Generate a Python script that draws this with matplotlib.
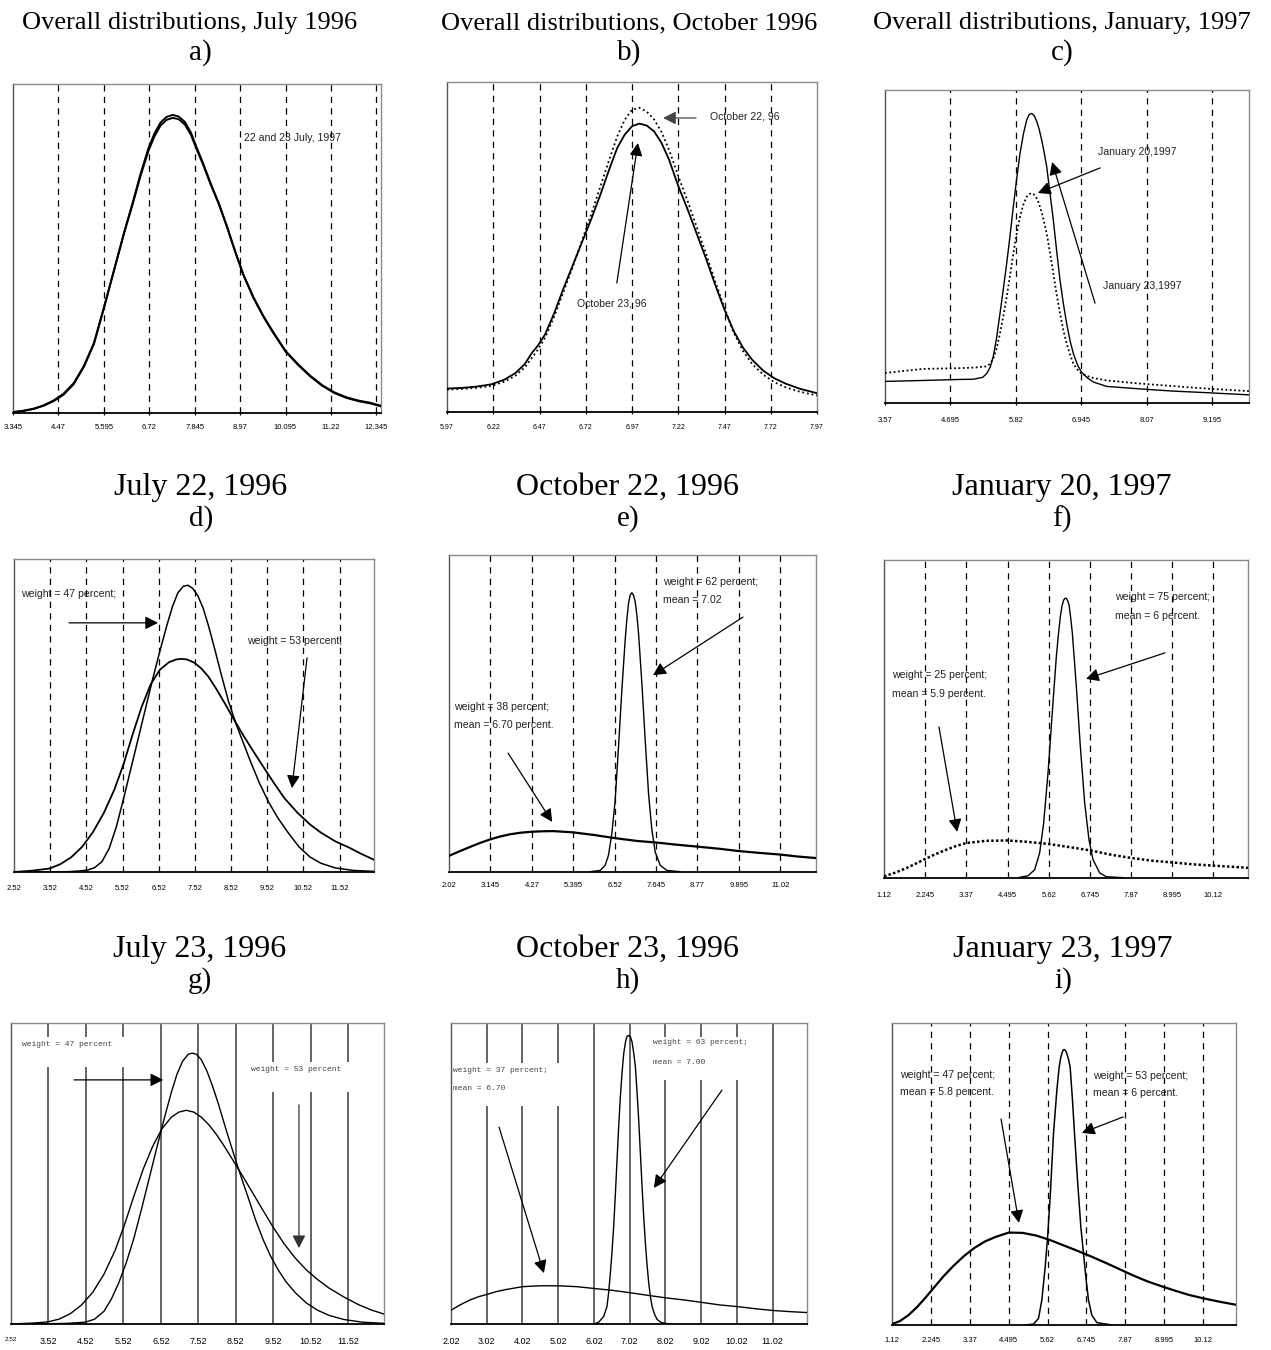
import matplotlib
matplotlib.use('Agg')
import matplotlib.pyplot as plt
from matplotlib.patches import Rectangle

# ---------------- data (y = percent of panel height) ----------------
a_ticks = [3.345, 4.47, 5.595, 6.72, 7.845, 8.97, 10.095, 11.22, 12.345]
a_labels = ['3.345', '4.47', '5.595', '6.72', '7.845', '8.97', '10.095', '11.22', '12.345']
a_x = [3.345, 3.6, 3.85, 4.1, 4.35, 4.6, 4.85, 5.1, 5.35, 5.6, 5.85, 6.1, 6.3, 6.5, 6.7, 6.85, 7.0,
       7.15, 7.3, 7.45, 7.6, 7.75, 7.9, 8.05, 8.25, 8.45, 8.65, 8.85, 9.05, 9.3, 9.55, 9.8, 10.1,
       10.4, 10.7, 11.0, 11.3, 11.6, 11.9, 12.2, 12.46]
a_jul22 = [0.2, 0.6, 1.2, 2.2, 3.6, 5.6, 8.8, 14.0, 21.0, 32.0, 43.5, 55.0, 63.5, 72.5, 80.5, 85.0, 88.3,
           90.0, 90.6, 90.1, 88.5, 85.3, 80.5, 76.0, 69.5, 63.5, 56.5, 49.0, 42.0, 35.0, 29.2, 24.2, 18.6,
           14.7, 11.2, 8.3, 6.1, 4.6, 3.6, 2.9, 2.0]
a_jul23 = [0.3, 0.7, 1.3, 2.3, 3.8, 5.9, 9.1, 14.3, 21.3, 32.2, 43.5, 54.8, 63.1, 71.9, 79.7, 84.1, 87.4,
           89.1, 89.7, 89.3, 87.7, 84.6, 80.0, 75.6, 69.2, 63.3, 56.4, 49.0, 42.1, 35.2, 29.4, 24.4, 18.8,
           14.9, 11.4, 8.5, 6.3, 4.8, 3.8, 3.1, 2.2]

b_ticks = [5.97, 6.22, 6.47, 6.72, 6.97, 7.22, 7.47, 7.72, 7.97]
b_labels = ['5.97', '6.22', '6.47', '6.72', '6.97', '7.22', '7.47', '7.72', '7.97']
b_x = [5.97, 6.05, 6.13, 6.21, 6.28, 6.34, 6.39, 6.43, 6.46, 6.50, 6.55, 6.60, 6.65, 6.70, 6.75,
       6.80, 6.85, 6.89, 6.93, 6.97, 7.01, 7.05, 7.09, 7.13, 7.17, 7.22, 7.27, 7.32, 7.37, 7.42,
       7.47, 7.52, 7.57, 7.62, 7.68, 7.74, 7.80, 7.88, 7.97]
b_oct23 = [7.1, 7.3, 7.7, 8.4, 9.8, 11.8, 14.5, 18.0, 20.0, 23.5, 30.0, 37.5, 44.5, 51.5, 58.5,
           66.0, 74.0, 80.0, 84.0, 86.6, 87.4, 86.8, 85.0, 81.5, 76.5, 68.5, 61.5, 54.0, 46.5, 38.5,
           31.0, 24.5, 19.5, 15.8, 12.5, 10.2, 8.6, 7.0, 5.7]
b_oct22 = [6.8, 7.0, 7.3, 7.9, 9.2, 11.0, 13.5, 16.5, 18.8, 22.5, 29.0, 36.5, 44.0, 52.0, 60.0,
           68.5, 77.0, 83.5, 88.5, 91.6, 92.2, 91.0, 88.6, 84.8, 79.5, 71.5, 64.0, 56.0, 48.0, 39.5,
           31.5, 24.0, 18.5, 14.5, 11.3, 9.0, 7.5, 6.1, 5.0]

c_ticks = [3.57, 4.695, 5.82, 6.945, 8.07, 9.195]
c_labels = ['3.57', '4.695', '5.82', '6.945', '8.07', '9.195']
c_x20 = [3.57, 4.229, 4.8, 5.089, 5.25, 5.318, 5.38, 5.433, 5.49, 5.547, 5.605, 5.662, 5.72, 5.776,
         5.833, 5.891, 5.95, 6.006, 6.05, 6.092, 6.135, 6.178, 6.22, 6.264, 6.307, 6.35, 6.407,
         6.464, 6.52, 6.579, 6.636, 6.693, 6.75, 6.808, 6.877, 6.946, 7.05, 7.152, 7.381, 7.954,
         8.527, 9.1, 9.828]
c_jan20 = [6.9, 7.2, 7.5, 7.6, 8.2, 9.4, 11.5, 15.0, 21.0, 28.6, 36.5, 44.6, 53.5, 62.7,
           71.5, 79.7, 86.0, 90.4, 92.2, 92.5, 91.8, 90.0, 87.5, 84.0, 80.0, 75.5, 67.0,
           58.4, 48.8, 39.2, 31.8, 25.4, 20.0, 15.8, 12.3, 9.9, 8.0, 6.7, 5.3, 4.5,
           3.8, 3.3, 2.6]
c_x23 = [3.57, 4.229, 4.8, 5.089, 5.318, 5.38, 5.433, 5.49, 5.547, 5.605, 5.662, 5.72, 5.776, 5.833,
         5.891, 5.95, 6.006, 6.055, 6.103, 6.155, 6.206, 6.28, 6.35, 6.407, 6.464, 6.52, 6.579,
         6.636, 6.693, 6.75, 6.808, 6.877, 6.946, 7.05, 7.152, 7.381, 7.954, 8.527, 9.1, 9.828]
c_jan23 = [9.6, 10.9, 11.1, 11.3, 11.7, 12.6, 14.2, 17.5, 22.2, 27.8, 33.9, 40.8, 47.8, 54.0,
           59.5, 63.5, 65.9, 66.8, 67.0, 66.2, 64.3, 59.8, 54.2, 48.0, 41.4, 34.8, 28.6,
           23.3, 19.0, 15.5, 12.6, 10.7, 9.4, 8.6, 8.0, 7.2, 6.2, 5.4, 4.6, 3.8]

d_ticks = [2.52, 3.52, 4.52, 5.52, 6.52, 7.52, 8.52, 9.52, 10.52, 11.52]
d_labels = ['2.52', '3.52', '4.52', '5.52', '6.52', '7.52', '8.52', '9.52', '10.52', '11.52']
d_x_tall = [2.52, 3.5, 4.0, 4.3, 4.55, 4.75, 4.95, 5.15, 5.35, 5.55, 5.75, 5.95, 6.15, 6.35, 6.55,
            6.75, 6.9, 7.05, 7.2, 7.33, 7.46, 7.6, 7.75, 7.9, 8.05, 8.25, 8.45, 8.65, 8.85, 9.05,
            9.3, 9.55, 9.8, 10.1, 10.4, 10.7, 11.0, 11.4, 11.9, 12.47]
d_tall = [0.0, 0.0, 0.1, 0.3, 0.6, 1.4, 3.3, 7.5, 14.5, 23.5, 33.0, 42.5, 52.0, 61.5, 70.5,
          79.0, 84.8, 89.2, 91.3, 91.6, 90.6, 88.3, 84.2, 78.5, 72.0, 63.0, 54.5, 47.5, 41.5, 35.5,
          28.5, 22.5, 17.5, 12.5, 8.0, 4.8, 2.8, 1.3, 0.5, 0.2]
d_x_wide = [2.52, 3.0, 3.5, 3.8, 4.1, 4.4, 4.7, 5.0, 5.3, 5.55, 5.8, 6.05, 6.3, 6.55, 6.8, 7.0,
            7.15, 7.3, 7.5, 7.7, 7.9, 8.1, 8.35, 8.6, 8.85, 9.1, 9.4, 9.7, 10.0, 10.35, 10.7,
            11.0, 11.4, 11.8, 12.1, 12.47]
d_wide = [0.0, 0.4, 1.1, 2.5, 4.7, 8.0, 12.7, 18.8, 26.5, 34.5, 44.0, 52.8, 60.0, 64.6, 67.0, 67.9,
          68.1, 67.9, 66.9, 65.0, 62.3, 58.7, 53.8, 48.7, 43.8, 39.2, 33.8, 28.5, 23.5, 19.0, 15.2,
          12.6, 9.8, 7.7, 5.9, 3.9]

e_ticks = [2.02, 3.145, 4.27, 5.395, 6.52, 7.645, 8.77, 9.895, 11.02]
e_labels = ['2.02', '3.145', '4.27', '5.395', '6.52', '7.645', '8.77', '9.895', '11.02']
e_x_narrow = [5.855, 6.126, 6.262, 6.353, 6.444, 6.534, 6.625, 6.716, 6.806, 6.85, 6.897, 6.943,
              6.988, 7.033, 7.078, 7.124, 7.169, 7.26, 7.35, 7.441, 7.532, 7.622, 7.758, 7.939, 8.302]
e_narrow = [0.1, 0.5, 2.1, 5.3, 12.1, 22.6, 39.5, 57.4, 73.2, 79.5, 84.7, 87.4,
            88.1, 87.3, 85.3, 81.0, 75.3, 59.5, 41.6, 24.7, 13.2, 6.3, 2.1, 0.5, 0.1]
e_x_wide = [2.02, 2.3, 2.591, 2.87, 3.144, 3.41, 3.679, 3.97, 4.268, 4.56, 4.857, 5.392, 5.945,
            6.516, 7.123, 7.649, 8.211, 8.773, 9.389, 9.897, 10.478, 11.021, 11.475, 11.992]
e_wide = [5.1, 6.5, 7.9, 9.2, 10.3, 11.2, 11.9, 12.4, 12.7, 12.85, 12.9, 12.5, 11.7,
          10.7, 9.8, 9.3, 8.6, 8.0, 7.3, 6.6, 6.0, 5.5, 4.9, 4.4]

f_ticks = [1.12, 2.245, 3.37, 4.495, 5.62, 6.745, 7.87, 8.995, 10.12]
f_labels = ['1.12', '2.245', '3.37', '4.495', '5.62', '6.745', '7.87', '8.995', '10.12']
f_x_narrow = [4.827, 5.055, 5.237, 5.374, 5.483, 5.602, 5.711, 5.829, 5.885, 5.939, 5.985, 6.03,
              6.062, 6.094, 6.135, 6.176, 6.22, 6.267, 6.376, 6.485, 6.604, 6.722, 6.831, 7.014,
              7.196, 7.651]
f_narrow = [0.2, 0.7, 2.6, 7.9, 17.3, 33.0, 50.8, 69.6, 76.5, 82.2, 85.6, 87.4,
            87.9, 88.0, 87.3, 85.9, 82.0, 77.0, 60.2, 41.4, 23.6, 12.0, 5.8, 1.6,
            0.4, 0.1]
f_x_wide = [1.12, 1.43, 1.73, 2.0, 2.245, 2.53, 2.823, 3.1, 3.37, 3.917, 4.49, 5.009, 5.62, 6.194,
            6.749, 7.332, 7.879, 8.471, 8.999, 9.564, 10.12, 11.067]
f_wide = [0.5, 1.7, 3.1, 4.6, 6.0, 7.5, 8.9, 10.1, 11.0, 11.7, 11.8, 11.4, 10.7, 9.7,
          8.7, 7.3, 6.3, 5.4, 4.9, 4.3, 3.9, 3.2]

g_ticks = [2.52, 3.52, 4.52, 5.52, 6.52, 7.52, 8.52, 9.52, 10.52, 11.52]
g_labels = ['2.52', '3.52', '4.52', '5.52', '6.52', '7.52', '8.52', '9.52', '10.52', '11.52']
g_x_tall = [2.52, 3.5, 4.0, 4.5, 4.75, 5.0, 5.2, 5.4, 5.6, 5.8, 6.0, 6.2, 6.4, 6.6, 6.8, 6.95,
            7.1, 7.25, 7.355, 7.47, 7.6, 7.75, 7.9, 8.05, 8.25, 8.45, 8.65, 8.85, 9.05, 9.25, 9.45,
            9.65, 9.85, 10.1, 10.4, 10.7, 11.0, 11.4, 11.9, 12.5]
g_tall = [0.0, 0.1, 0.2, 0.6, 1.6, 4.2, 8.3, 13.8, 20.5, 28.5, 38.0, 48.0, 58.0, 67.8, 77.0, 83.0,
          87.3, 89.6, 90.0, 89.6, 87.8, 84.0, 79.0, 73.3, 65.0, 57.0, 49.3, 42.0, 34.5, 28.0, 22.5,
          18.0, 14.2, 10.5, 7.0, 4.6, 2.9, 1.5, 0.6, 0.2]
g_x_wide = [2.52, 3.1, 3.5, 3.8, 4.1, 4.4, 4.7, 5.0, 5.3, 5.55, 5.8, 6.05, 6.3, 6.55, 6.8, 7.0,
            7.194, 7.4, 7.6, 7.8, 8.0, 8.2, 8.45, 8.7, 8.95, 9.2, 9.5, 9.8, 10.1, 10.4, 10.7, 11.0,
            11.4, 11.8, 12.15, 12.5]
g_wide = [0.0, 0.3, 0.7, 1.6, 3.4, 6.3, 10.5, 16.5, 24.5, 33.0, 42.5, 51.5, 59.0, 64.9, 68.7, 70.4,
          71.0, 70.4, 68.7, 66.2, 63.0, 59.3, 54.3, 49.2, 44.0, 38.7, 32.5, 26.8, 22.0, 18.0, 14.8,
          12.0, 9.0, 6.4, 4.6, 3.2]

h_ticks = [2.02, 3.02, 4.02, 5.02, 6.02, 7.02, 8.02, 9.02, 10.02, 11.02]
h_labels = ['2.02', '3.02', '4.02', '5.02', '6.02', '7.02', '8.02', '9.02', '10.02', '11.02']
h_x_narrow = [6.02, 6.151, 6.291, 6.384, 6.431, 6.478, 6.525, 6.571, 6.618, 6.665, 6.711, 6.758,
              6.805, 6.852, 6.9, 6.945, 7.001, 7.043, 7.085, 7.132, 7.179, 7.225, 7.272, 7.319,
              7.366, 7.412, 7.459, 7.506, 7.553, 7.6, 7.646, 7.717, 7.787, 7.9, 8.02, 8.16]
h_narrow = [0.0, 0.6, 2.5, 5.8, 10.5, 16.8, 24.0, 32.3, 43.0, 54.4, 65.5, 75.4,
            83.5, 89.8, 93.6, 95.6, 95.9, 95.3, 93.7, 90.0, 85.4, 77.0, 67.7, 56.5,
            45.6, 35.5, 26.8, 19.5, 13.5, 9.0, 5.8, 3.2, 1.5, 0.5, 0.2, 0.0]
h_x_wide = [2.02, 2.3, 2.553, 2.8, 3.02, 3.3, 3.581, 4.02, 4.515, 5.02, 5.543, 6.02, 6.525, 7.02,
            7.6, 8.02, 8.534, 9.02, 9.562, 10.02, 10.59, 11.02, 11.515, 11.982]
h_wide = [4.6, 6.5, 8.0, 9.1, 9.8, 10.8, 11.5, 12.4, 12.7, 12.7, 12.4, 11.8, 11.2, 10.4,
          9.4, 8.7, 8.0, 7.2, 6.3, 5.8, 5.0, 4.5, 4.1, 3.8]

i_ticks = [1.12, 2.245, 3.37, 4.495, 5.62, 6.745, 7.87, 8.995, 10.12]
i_labels = ['1.12', '2.245', '3.37', '4.495', '5.62', '6.745', '7.87', '8.995', '10.12']
i_x_narrow = [4.974, 5.215, 5.36, 5.456, 5.553, 5.62, 5.697, 5.793, 5.89, 5.957, 6.0, 6.034, 6.07,
              6.102, 6.14, 6.179, 6.227, 6.275, 6.343, 6.401, 6.488, 6.584, 6.661, 6.738, 6.805,
              6.901, 7.046, 7.48]
i_narrow = [0.0, 0.3, 2.2, 8.3, 19.3, 28.7, 42.4, 63.4, 77.7, 85.4, 88.4, 89.9, 91.0,
            91.2, 90.9, 89.9, 88.0, 85.4, 74.4, 63.4, 48.0, 32.5, 23.7, 14.9, 8.3,
            3.3, 0.8, 0.0]
i_x_wide = [1.12, 1.35, 1.6, 1.85, 2.1, 2.35, 2.6, 2.9, 3.2, 3.5, 3.8, 4.1, 4.5, 4.9, 5.3, 5.7,
            6.1, 6.5, 6.9, 7.3, 7.7, 8.1, 8.5, 8.9, 9.3, 9.7, 10.1, 10.6, 11.074]
i_wide = [0.3, 1.3, 3.3, 6.0, 9.2, 12.6, 16.0, 19.6, 22.8, 25.5, 27.6, 29.1, 30.6, 30.5, 29.6, 28.1,
          26.3, 24.5, 22.6, 20.6, 18.5, 16.4, 14.5, 12.9, 11.4, 10.0, 8.9, 7.7, 6.7]

# ---------------- figure ----------------
W, H = 1271, 1350
fig = plt.figure(figsize=(W / 100, H / 100), dpi=100)
fig.patch.set_facecolor('white')

SERIF = ['Liberation Serif', 'DejaVu Serif']
SANS = ['Liberation Sans', 'DejaVu Sans']
MONO = ['Liberation Mono', 'DejaVu Sans Mono']
ANN = 7.6
DASH = (0, (5, 4.2))


def px_axes(l, r, t, b):
    return fig.add_axes([l / W, 1 - b / H, (r - l) / W, (b - t) / H])


def setup(ax, xmin, xmax, ticks, labels, lines, ls, lsize, pad, tlen=3.5, lcolor='black', llw=0.9):
    ax.set_xlim(xmin, xmax)
    ax.set_ylim(0, 100)
    ax.set_yticks([])
    ax.set_xticks(ticks)
    ax.set_xticklabels(labels, fontfamily=SANS, fontsize=lsize)
    for s in ['left', 'top', 'right']:
        ax.spines[s].set_color('#8a8a8a')
        ax.spines[s].set_linewidth(1.0)
    ax.spines['left'].set_color('#555555')
    ax.spines['bottom'].set_color('black')
    ax.spines['bottom'].set_linewidth(1.3)
    ax.tick_params(axis='x', direction='inout', length=tlen, width=0.9, pad=pad, colors='black')
    for v in lines:
        ax.axvline(v, color=lcolor, lw=llw, ls=ls, zorder=1)


def arrow(ax, tail, head, color='black', lw=0.9):
    ax.annotate('', xy=head, xytext=tail, xycoords='axes fraction', textcoords='axes fraction',
                arrowprops=dict(arrowstyle='-|>,head_length=0.55,head_width=0.28', lw=lw,
                                color=color, shrinkA=0, shrinkB=0, mutation_scale=14), zorder=5)


def note(ax, x, y, s, size=ANN, family=SANS, color='#222222'):
    ax.text(x, y, s, transform=ax.transAxes, fontsize=size, family=family, color=color,
            ha='left', va='center', zorder=6)


def title(cx, cy, s, size):
    fig.text(cx / W, 1 - cy / H, s, family=SERIF, fontsize=size, ha='center', va='center')


# titles
T1, T2, TL = 19.0, 23.0, 21.0
title(190, 23, 'Overall distributions, July 1996', T1)
title(200, 53, 'a)', TL)
title(629, 23, 'Overall distributions, October 1996', T1)
title(629, 53, 'b)', TL)
title(1062, 23, 'Overall distributions, January, 1997', T1)
title(1062, 53, 'c)', TL)
title(201, 487, 'July 22, 1996', T2)
title(201, 519, 'd)', TL)
title(628, 487, 'October 22, 1996', T2)
title(628, 519, 'e)', TL)
title(1062, 487, 'January 20, 1997', T2)
title(1062, 519, 'f)', TL)
title(200, 949, 'July 23, 1996', T2)
title(200, 981, 'g)', TL)
title(628, 949, 'October 23, 1996', T2)
title(628, 981, 'h)', TL)
title(1063, 949, 'January 23, 1997', T2)
title(1063, 981, 'i)', TL)

# ---- a ----
ax = px_axes(13, 381, 84, 413)
setup(ax, 3.345, 12.46, a_ticks, a_labels, a_ticks[1:], DASH, 5.5, 6.5)
ax.plot(a_x, a_jul22, color='black', lw=1.4, zorder=3)
ax.plot(a_x, a_jul23, color='black', lw=1.4, zorder=3)
note(ax, 0.628, 0.836, '22 and 23 July, 1997')

# ---- b ----
ax = px_axes(447, 817, 82, 412)
setup(ax, 5.97, 7.97, b_ticks, b_labels, b_ticks[1:-1], DASH, 5.0, 7.0)
ax.plot(b_x, b_oct22, color='black', lw=1.3, ls=(0, (1, 1.6)), zorder=3)
ax.plot(b_x, b_oct23, color='black', lw=1.3, zorder=3)
note(ax, 0.711, 0.894, 'October 22, 96')
arrow(ax, (0.673, 0.891), (0.584, 0.891), color='#444444')
note(ax, 0.351, 0.33, 'October 23, 96')
arrow(ax, (0.459, 0.391), (0.516, 0.815))

# ---- c ----
ax = px_axes(885, 1249, 90, 403)
setup(ax, 3.57, 9.828, c_ticks, c_labels, c_ticks[1:], DASH, 5.5, 8.5)
ax.plot(c_x23, c_jan23, color='black', lw=1.3, ls=(0, (1, 1.4)), zorder=3)
ax.plot(c_x20, c_jan20, color='black', lw=1.0, zorder=3)
note(ax, 0.585, 0.802, 'January 20,1997')
arrow(ax, (0.591, 0.751), (0.42, 0.671))
note(ax, 0.599, 0.374, 'January 23,1997')
arrow(ax, (0.577, 0.319), (0.459, 0.77))

# ---- d ----
ax = px_axes(14, 374, 559, 872)
setup(ax, 2.52, 12.47, d_ticks, d_labels, d_ticks[1:], DASH, 5.5, 9.0, tlen=0)
ax.plot(d_x_tall, d_tall, color='black', lw=1.1, zorder=3)
ax.plot(d_x_wide, d_wide, color='black', lw=1.3, zorder=3)
note(ax, 0.019, 0.888, 'weight = 47 percent;')
arrow(ax, (0.153, 0.796), (0.40, 0.796))
note(ax, 0.647, 0.738, 'weight = 53 percent;')
arrow(ax, (0.814, 0.684), (0.772, 0.268))

# ---- e ----
ax = px_axes(449, 816, 555, 872)
setup(ax, 2.02, 11.99, e_ticks, e_labels, e_ticks[1:], DASH, 5.5, 7.5, tlen=0)
ax.plot(e_x_wide, e_wide, color='black', lw=1.6, zorder=3)
ax.plot(e_x_narrow, e_narrow, color='black', lw=1.0, zorder=3)
note(ax, 0.583, 0.915, 'weight = 62 percent;')
note(ax, 0.583, 0.858, 'mean = 7.02')
arrow(ax, (0.801, 0.804), (0.556, 0.621))
note(ax, 0.014, 0.521, 'weight = 38 percent;')
note(ax, 0.014, 0.464, 'mean = 6.70 percent.')
arrow(ax, (0.161, 0.375), (0.281, 0.158))

# ---- f ----
ax = px_axes(884, 1248, 560, 878)
setup(ax, 1.12, 11.067, f_ticks, f_labels, f_ticks[1:], DASH, 5.5, 10.0, tlen=0)
ax.plot(f_x_wide, f_wide, color='black', lw=1.8, ls=(0, (1, 0.9)), zorder=3)
ax.plot(f_x_narrow, f_narrow, color='black', lw=1.0, zorder=3)
note(ax, 0.635, 0.884, 'weight = 75 percent;')
note(ax, 0.635, 0.824, 'mean = 6 percent.')
arrow(ax, (0.772, 0.708), (0.555, 0.626))
note(ax, 0.022, 0.638, 'weight = 25 percent;')
note(ax, 0.022, 0.579, 'mean = 5.9 percent.')
arrow(ax, (0.151, 0.475), (0.201, 0.145))

# ---- g ----
ax = px_axes(11, 384, 1023, 1324)
setup(ax, 2.52, 12.475, g_ticks, g_labels, g_ticks[1:], '-', 6.5, 9.5, tlen=0,
      lcolor='#3a3a3a', llw=1.1)
ax.get_xticklabels()[0].set_fontsize(4.6)
ax.add_patch(Rectangle((0.004, 0.854), 0.356, 0.099, transform=ax.transAxes,
                       facecolor='white', edgecolor='none', zorder=2))
ax.add_patch(Rectangle((0.622, 0.771), 0.314, 0.099, transform=ax.transAxes,
                       facecolor='white', edgecolor='none', zorder=2))
ax.plot(g_x_tall, g_tall, color='black', lw=1.0, zorder=3)
ax.plot(g_x_wide, g_wide, color='black', lw=1.0, zorder=3)
note(ax, 0.029, 0.93, 'weight = 47 percent', size=5.8, family=MONO, color='#444444')
arrow(ax, (0.169, 0.811), (0.408, 0.811))
note(ax, 0.643, 0.844, 'weight = 53 percent', size=5.8, family=MONO, color='#444444')
arrow(ax, (0.772, 0.728), (0.772, 0.252), color='#333333')

# ---- h ----
ax = px_axes(451, 807, 1023, 1324)
setup(ax, 2.02, 11.98, h_ticks, h_labels, h_ticks[1:], '-', 6.5, 9.5, tlen=0,
      lcolor='#3a3a3a', llw=1.1)
ax.add_patch(Rectangle((0.559, 0.811), 0.309, 0.142, transform=ax.transAxes,
                       facecolor='white', edgecolor='none', zorder=2))
ax.add_patch(Rectangle((0.004, 0.724), 0.358, 0.143, transform=ax.transAxes,
                       facecolor='white', edgecolor='none', zorder=2))
ax.plot(h_x_wide, h_wide, color='black', lw=1.0, zorder=3)
ax.plot(h_x_narrow, h_narrow, color='black', lw=1.0, zorder=3)
note(ax, 0.567, 0.934, 'weight = 63 percent;', size=5.8, family=MONO, color='#444444')
note(ax, 0.567, 0.870, 'mean = 7.00', size=5.8, family=MONO, color='#444444')
arrow(ax, (0.761, 0.777), (0.57, 0.452))
note(ax, 0.006, 0.841, 'weight = 37 percent;', size=5.8, family=MONO, color='#444444')
note(ax, 0.006, 0.781, 'mean = 6.70', size=5.8, family=MONO, color='#444444')
arrow(ax, (0.135, 0.654), (0.261, 0.169))

# ---- i ----
ax = px_axes(892, 1236, 1023, 1325)
setup(ax, 1.12, 11.074, i_ticks, i_labels, i_ticks[1:], DASH, 5.5, 9.0, tlen=0)
ax.plot(i_x_wide, i_wide, color='black', lw=1.6, zorder=3)
ax.plot(i_x_narrow, i_narrow, color='black', lw=1.1, zorder=3)
note(ax, 0.023, 0.828, 'weight = 47 percent;')
note(ax, 0.023, 0.772, 'mean = 5.8 percent.')
arrow(ax, (0.317, 0.682), (0.369, 0.338))
note(ax, 0.584, 0.825, 'weight = 53 percent;')
note(ax, 0.584, 0.768, 'mean = 6 percent.')
arrow(ax, (0.672, 0.689), (0.552, 0.636))

fig.savefig('out.png', dpi=100, facecolor='white')
